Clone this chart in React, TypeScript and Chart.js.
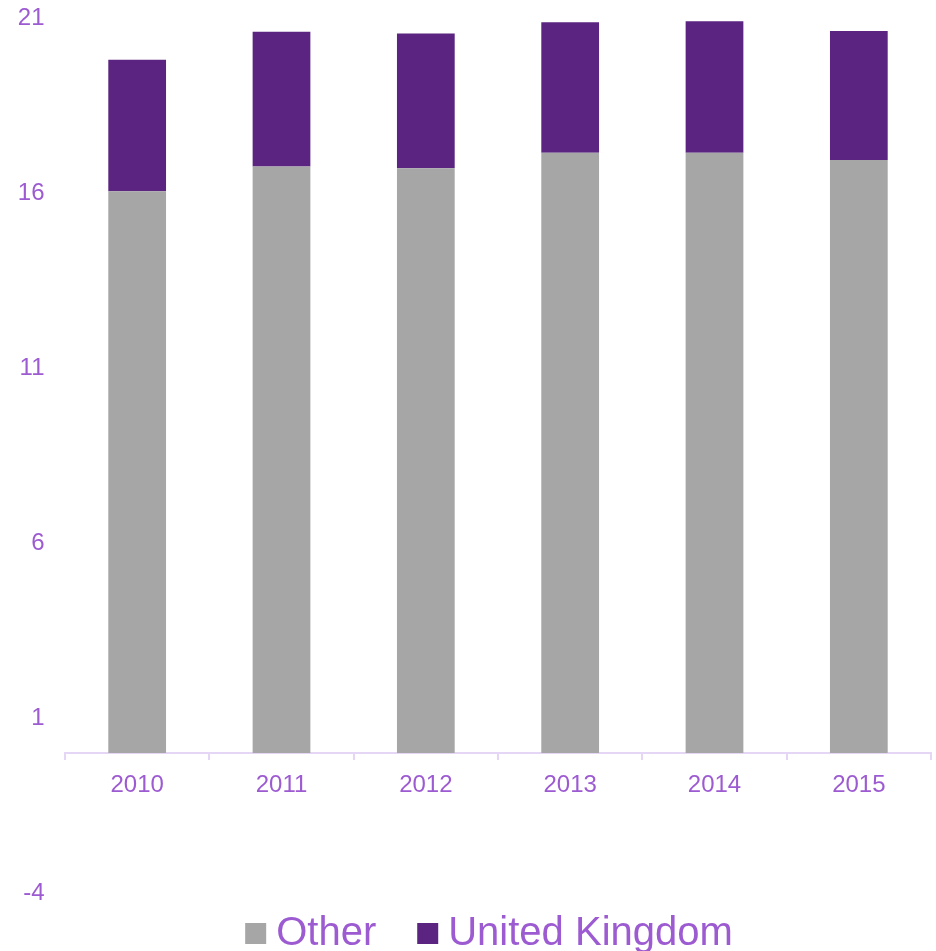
import React, { useEffect, useRef } from 'react';
import { Chart, registerables } from 'chart.js';

Chart.register(...registerables);

const categories = ['2010', '2011', '2012', '2013', '2014', '2015'];
const otherValues = [16.05, 16.76, 16.71, 17.15, 17.15, 16.94];
const ukValues = [3.76, 3.85, 3.85, 3.73, 3.76, 3.69];
const yTickValues = [-4, 1, 6, 11, 16, 21];
const seriesNames = ['Other', 'United Kingdom'];
const seriesColors = ['#A6A6A6', '#5B2480'];

const TEXT = '#9D5BD2';
const AXIS = '#E6D6F6';
const FAMILY = '"Liberation Sans", Arial, sans-serif';

// nudges the legend block to where the reference places it
const legendShift = {
  id: 'legendShift',
  afterLayout(chart: any) {
    const l = chart.legend;
    if (l) {
      l.top -= 30.5;
      l.left += 28.5;
      l.right += 28.5;
    }
  },
};

export default function App() {
  const ref = useRef<HTMLCanvasElement>(null);
  useEffect(() => {
    const canvas = ref.current;
    if (!canvas) return;
    Chart.defaults.font.family = FAMILY;
    const chart = new Chart(canvas, {
      type: 'bar',
      data: {
        labels: categories,
        datasets: [
          { label: seriesNames[0], data: otherValues, backgroundColor: seriesColors[0], borderWidth: 0 },
          { label: seriesNames[1], data: ukValues, backgroundColor: seriesColors[1], borderWidth: 0 },
        ],
      },
      options: {
        responsive: false,
        animation: false,
        layout: { padding: { left: 0, right: 5, top: 18, bottom: 0 } },
        datasets: { bar: { categoryPercentage: 0.8, barPercentage: 0.5 } },
        scales: {
          x: {
            stacked: true,
            position: { y: 0 } as any,
            grid: {
              display: true,
              drawOnChartArea: false,
              drawTicks: true,
              tickLength: 6,
              color: AXIS,
              lineWidth: 2,
              offset: true,
            },
            border: { display: true, color: AXIS, width: 2 },
            ticks: { color: TEXT, font: { family: FAMILY, size: 24 }, padding: 12, maxRotation: 0 },
          },
          y: {
            stacked: true,
            min: -4,
            max: 21,
            afterBuildTicks: (s: any) => {
              s.ticks = yTickValues.map((v) => ({ value: v }));
            },
            afterFit: (s: any) => {
              s.width = 65;
              s.paddingTop = 0;
              s.paddingBottom = 0;
            },
            grid: { display: false, drawTicks: false },
            border: { display: false },
            ticks: { color: TEXT, font: { family: FAMILY, size: 24 }, padding: 20.5 },
          },
        },
        plugins: {
          legend: {
            position: 'bottom',
            maxHeight: 58,
            labels: {
              usePointStyle: true,
              pointStyle: 'rect',
              boxWidth: 1,
              boxHeight: 21,
              padding: 51,
              color: TEXT,
              font: { family: FAMILY, size: 40 },
            },
          },
          tooltip: { enabled: false },
        },
      },
      plugins: [legendShift],
    } as any);
    return () => chart.destroy();
  }, []);
  return (
    <div style={{ position: 'absolute', left: 0, top: 0, width: 936, height: 951 }}>
      <canvas ref={ref} width={936} height={951} style={{ display: 'block' }} />
    </div>
  );
}
